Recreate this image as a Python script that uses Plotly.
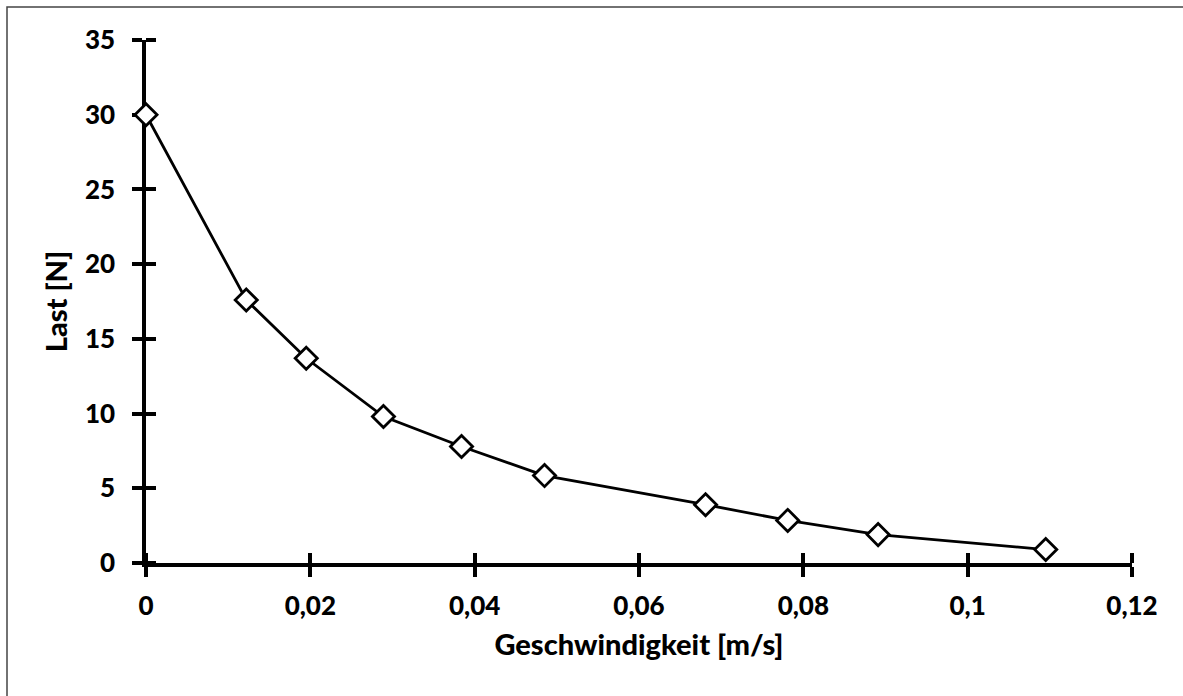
import plotly.graph_objects as go

speed = [0.0, 0.0122, 0.0195, 0.0289, 0.0384, 0.0485, 0.0681, 0.0781, 0.0891, 0.1095]
load = [30.0, 17.6, 13.7, 9.8, 7.8, 5.85, 3.9, 2.85, 1.9, 0.9]

x_ticks = [0, 0.02, 0.04, 0.06, 0.08, 0.10, 0.12]
x_labels = ["0", "0,02", "0,04", "0,06", "0,08", "0,1", "0,12"]
y_ticks = [0, 5, 10, 15, 20, 25, 30, 35]
y_labels = ["0", "5", "10", "15", "20", "25", "30", "35"]

FONT = "Lato"
fig = go.Figure()
fig.add_trace(go.Scatter(
    x=speed, y=load, mode="lines+markers",
    line=dict(color="black", width=2.8),
    marker=dict(symbol="diamond", size=17, color="white",
                line=dict(color="black", width=2.8)),
    showlegend=False, cliponaxis=False,
))

tick_style = dict(ticklen=10, tickwidth=3.5, tickcolor="black")

fig.update_layout(
    width=1183, height=696,
    margin=dict(l=146, r=51, t=40, b=133),
    paper_bgcolor="white", plot_bgcolor="white",
    font=dict(family=FONT, color="black"),
    xaxis=dict(range=[0, 0.12], tickvals=x_ticks, ticktext=x_labels,
               showgrid=False, zeroline=False, showline=True, layer="below traces",
               linecolor="black", linewidth=3.5, ticks="outside", **tick_style,
               minor=dict(tickvals=x_ticks, ticks="inside", **tick_style),
               ticklabelstandoff=7,
               tickfont=dict(size=26, family=FONT, weight=900),
               title=dict(text="Geschwindigkeit [m/s]", standoff=16,
                          font=dict(size=29, family=FONT, weight=900))),
    yaxis=dict(range=[0, 35], tickvals=y_ticks, ticktext=y_labels,
               showgrid=False, zeroline=False, showline=True, layer="below traces",
               linecolor="black", linewidth=3.5, ticks="outside", **tick_style,
               minor=dict(tickvals=y_ticks, ticks="inside", **tick_style),
               ticklabelstandoff=12,
               tickfont=dict(size=26, family=FONT, weight=900),
               title=dict(text="Last [N]", standoff=10,
                          font=dict(size=29, family=FONT, weight=900))),
    shapes=[dict(type="rect", xref="paper", yref="paper",
                 x0=-146/986 + 7/986, x1=1.2, y0=-0.5, y1=1 + 33/523,
                 line=dict(color="#444", width=1.5), layer="below")],
)
fig.write_html("out.html")
